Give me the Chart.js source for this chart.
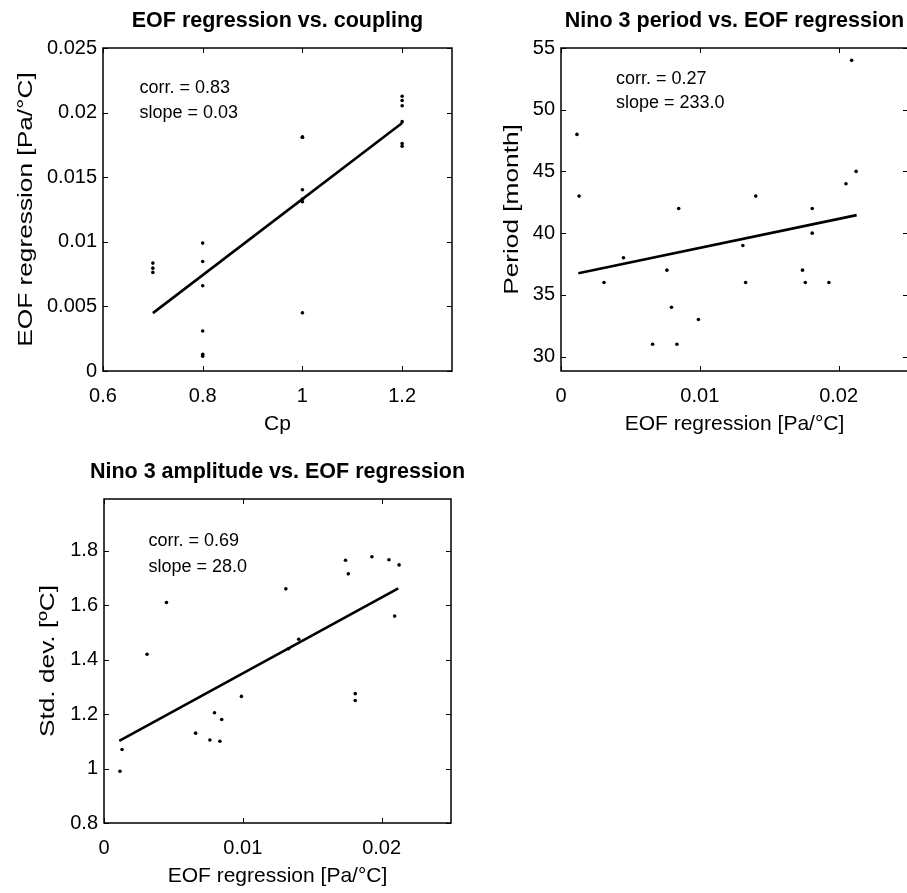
<!DOCTYPE html>
<html lang="en">
<head>
    <meta charset="UTF-8">
    <title>EOF regression scatter plots</title>
    <style>
        body {
            margin: 0;
            padding: 0;
            width: 907px;
            height: 893px;
            overflow: hidden;
            background: #ffffff;
            position: relative;
        }
        canvas {
            position: absolute;
        }
    </style>
    <script src="https://cdn.jsdelivr.net/npm/chart.js"></script>
</head>
<body>

<canvas id="chart1" width="470" height="440" style="left:0px; top:0px;"></canvas>
<canvas id="chart2" width="450" height="440" style="left:470px; top:0px;"></canvas>
<canvas id="chart3" width="470" height="440" style="left:0px; top:450px;"></canvas>

<script>
    // one value per run, same order in every array
    const cp = [0.8, 0.8, 0.8, 1.0, 0.8, 0.7, 0.7, 0.7, 0.8, 0.8, 1.0, 1.0, 1.0, 1.2, 1.2, 1.0, 1.0, 1.2, 1.2, 1.2, 1.2];
    const eofReg = [0.00115, 0.0013, 0.0031, 0.0045, 0.0066, 0.00763, 0.00796, 0.00835, 0.00848, 0.0099, 0.0131, 0.0133, 0.01403, 0.0174, 0.0176, 0.0181, 0.0181, 0.0193, 0.02053, 0.02094, 0.02126];
    const period = [48, 43, 36, 38, 31, 37, 34, 31, 42, 33, 39, 36, 43, 37, 36, 42, 40, 36, 44, 54, 45];
    const stdDev = [0.99, 1.07, 1.42, 1.61, 1.13, 1.105, 1.205, 1.10, 1.18, 1.265, 1.66, 1.44, 1.475, 1.765, 1.715, 1.275, 1.25, 1.778, 1.767, 1.56, 1.748];

    // regression lines (end points)
    const fit1X = [0.7, 1.2];
    const fit1Y = [0.00448, 0.0192];
    const fit2X = [0.00125, 0.0213];
    const fit2Y = [36.75, 41.46];
    const fit3X = [0.0011, 0.0212];
    const fit3Y = [1.102, 1.662];

    // ticks
    const cpTicks = [0.6, 0.8, 1, 1.2];
    const eofTicks1 = [0, 0.005, 0.01, 0.015, 0.02, 0.025];
    const eofTicks = [0, 0.01, 0.02];
    const periodTicks = [30, 35, 40, 45, 50, 55];
    const stdTicks = [0.8, 1, 1.2, 1.4, 1.6, 1.8];

    const fontFamily = '"Liberation Sans", Arial, Helvetica, sans-serif';
    Chart.defaults.font.family = fontFamily;
    Chart.defaults.color = '#000000';

    function toPoints(xs, ys) {
        return xs.map((x, i) => ({ x: x, y: ys[i] }));
    }

    // box, inward ticks, title, y label and the corr./slope text
    function framePlugin(cfg) {
        return {
            id: 'frame',
            afterDraw(chart) {
                const ctx = chart.ctx;
                const a = chart.chartArea;
                const xs = chart.scales.x;
                const ys = chart.scales.y;
                ctx.save();
                ctx.strokeStyle = '#000000';
                ctx.lineWidth = 1.5;
                ctx.strokeRect(a.left, a.top, a.right - a.left, a.bottom - a.top);

                ctx.lineWidth = 1;
                const len = 5;
                ctx.beginPath();
                xs.ticks.forEach(t => {
                    const px = Math.round(xs.getPixelForValue(t.value)) + 0.5;
                    ctx.moveTo(px, a.bottom); ctx.lineTo(px, a.bottom - len);
                    ctx.moveTo(px, a.top); ctx.lineTo(px, a.top + len);
                });
                ys.ticks.forEach(t => {
                    const py = Math.round(ys.getPixelForValue(t.value)) + 0.5;
                    ctx.moveTo(a.left, py); ctx.lineTo(a.left + len, py);
                    ctx.moveTo(a.right, py); ctx.lineTo(a.right - len, py);
                });
                ctx.stroke();

                ctx.fillStyle = '#000000';
                ctx.font = 'bold 21.5px ' + fontFamily;
                ctx.textAlign = 'center';
                ctx.textBaseline = 'alphabetic';
                ctx.fillText(cfg.title, (a.left + a.right) / 2, a.top - 21);

                // rotated y label, drawn a bit stretched along its length like the original
                ctx.save();
                ctx.translate(cfg.yTitleX, (a.top + a.bottom) / 2);
                ctx.rotate(-Math.PI / 2);
                ctx.scale(1.25, 1);
                ctx.font = '21px ' + fontFamily;
                ctx.textBaseline = 'middle';
                ctx.fillText(cfg.yLabel, 0, 0);
                ctx.restore();

                ctx.font = '18px ' + fontFamily;
                ctx.textAlign = 'left';
                ctx.textBaseline = 'middle';
                cfg.notes.forEach(n => {
                    ctx.fillText(n.text, xs.getPixelForValue(n.x), ys.getPixelForValue(n.y));
                });
                ctx.restore();
            }
        };
    }

    function makeScatter(id, cfg) {
        const ctx = document.getElementById(id).getContext('2d');
        return new Chart(ctx, {
            type: 'scatter',
            data: {
                datasets: [{
                    data: toPoints(cfg.px, cfg.py),
                    backgroundColor: '#000000',
                    borderWidth: 0,
                    pointRadius: 1.8,
                    showLine: false
                }, {
                    data: toPoints(cfg.lx, cfg.ly),
                    borderColor: '#000000',
                    borderWidth: 2.6,
                    pointRadius: 0,
                    showLine: true,
                    fill: false
                }]
            },
            options: {
                responsive: false,
                animation: false,
                devicePixelRatio: 1,
                layout: { padding: cfg.padding },
                plugins: {
                    legend: { display: false },
                    tooltip: { enabled: false }
                },
                scales: {
                    x: {
                        type: 'linear',
                        position: 'bottom',
                        min: cfg.xMin,
                        max: cfg.xMax,
                        grid: { display: false, drawTicks: false },
                        border: { display: false },
                        afterBuildTicks: s => { s.ticks = cfg.xTicks.map(v => ({ value: v })); },
                        afterFit: s => { s.height = cfg.xHeight; },
                        ticks: {
                            font: { size: 20 },
                            color: '#000000',
                            padding: 13,
                            maxRotation: 0,
                            autoSkip: false,
                            callback: v => String(v)
                        },
                        title: {
                            display: true,
                            text: cfg.xLabel,
                            font: { size: 21 },
                            color: '#000000',
                            padding: { top: 0, bottom: cfg.xTitlePad }
                        }
                    },
                    y: {
                        type: 'linear',
                        position: 'left',
                        min: cfg.yMin,
                        max: cfg.yMax,
                        grid: { display: false, drawTicks: false },
                        border: { display: false },
                        afterBuildTicks: s => { s.ticks = cfg.yTicks.map(v => ({ value: v })); },
                        afterFit: s => { s.width = cfg.yWidth; },
                        ticks: {
                            font: { size: 20 },
                            color: '#000000',
                            padding: 6,
                            autoSkip: false,
                            callback: v => String(v)
                        },
                        title: { display: false }
                    }
                }
            },
            plugins: [framePlugin(cfg)]
        });
    }

    makeScatter('chart1', {
        px: cp, py: eofReg, lx: fit1X, ly: fit1Y,
        xMin: 0.6, xMax: 1.3, yMin: 0, yMax: 0.025,
        xTicks: cpTicks, yTicks: eofTicks1,
        xLabel: 'Cp', yLabel: 'EOF regression [Pa/°C]',
        title: 'EOF regression vs. coupling',
        notes: [{ text: 'corr. = 0.83', x: 0.673, y: 0.02187 }, { text: 'slope = 0.03', x: 0.673, y: 0.01995 }],
        padding: { top: 48, right: 18, left: 0, bottom: 0 },
        xHeight: 69, yWidth: 103, xTitlePad: 3, yTitleX: 26
    });

    makeScatter('chart2', {
        px: eofReg, py: period, lx: fit2X, ly: fit2Y,
        xMin: 0, xMax: 0.025, yMin: 28.83, yMax: 55,
        xTicks: eofTicks, yTicks: periodTicks,
        xLabel: 'EOF regression [Pa/°C]', yLabel: 'Period [month]',
        title: 'Nino 3 period vs. EOF regression',
        notes: [{ text: 'corr. = 0.27', x: 0.00396, y: 52.5 }, { text: 'slope = 233.0', x: 0.00396, y: 50.55 }],
        padding: { top: 48, right: 12, left: 0, bottom: 0 },
        xHeight: 69, yWidth: 91, xTitlePad: 3, yTitleX: 42
    });

    makeScatter('chart3', {
        px: eofReg, py: stdDev, lx: fit3X, ly: fit3Y,
        xMin: 0, xMax: 0.025, yMin: 0.8, yMax: 1.99,
        xTicks: eofTicks, yTicks: stdTicks,
        xLabel: 'EOF regression [Pa/°C]', yLabel: 'Std. dev. [ºC]',
        title: 'Nino 3 amplitude vs. EOF regression',
        notes: [{ text: 'corr. = 0.69', x: 0.00321, y: 1.834 }, { text: 'slope = 28.0', x: 0.00321, y: 1.74 }],
        padding: { top: 49, right: 19, left: 0, bottom: 0 },
        xHeight: 67, yWidth: 104, xTitlePad: 1, yTitleX: 48
    });
</script>

</body>
</html>
